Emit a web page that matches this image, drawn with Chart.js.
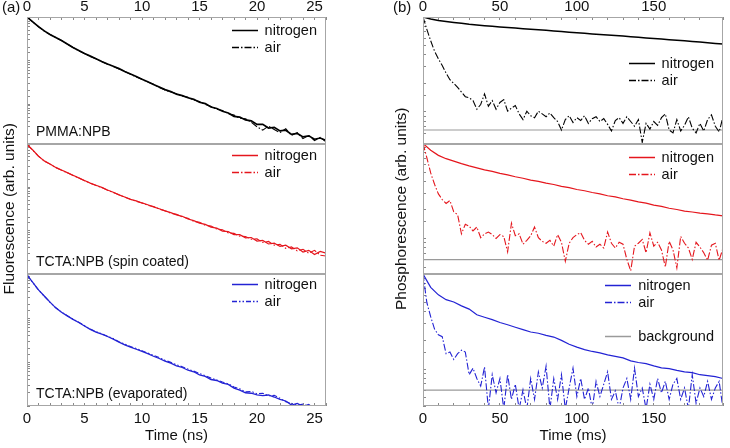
<!DOCTYPE html>
<html><head><meta charset="utf-8">
<script src="https://cdn.jsdelivr.net/npm/chart.js@4.4.0/dist/chart.umd.min.js"></script>
<style>
html,body{margin:0;padding:0;background:#fff;}
#wrap{position:relative;width:730px;height:448px;overflow:hidden;background:#fff;}
canvas{position:absolute;top:0;}
#cl{left:0;} #cr{left:365px;}
</style></head><body>
<div id="wrap"><canvas id="cl" width="365" height="448"></canvas><canvas id="cr" width="365" height="448"></canvas></div>
<script>
// ---------- data: (a) fluorescence, time in ns ----------
const timeNs = [0,0.5,1,1.5,2,2.5,3,3.5,4,4.5,5,5.5,6,6.5,7,7.5,8,8.5,9,9.5,10,10.5,11,11.5,12,12.5,13,13.5,14,14.5,15,15.5,16,16.5,17,17.5,18,18.5,19,19.5,20,20.5,21,21.5,22,22.5,23,23.5,24,24.5,25,25.5,26];
const pmmaNitrogen = [1000,776,603,479,398,339,288,240,200,170,145,126,110,95,83,74,65,56,49,43,37,32.4,28.2,24.5,21.4,19.3,16.8,15.6,13.9,12.8,11.0,10.2,8.5,7.9,6.8,6.2,5.2,5.0,4.3,4.1,3.4,3.4,2.8,2.9,2.4,2.5,2.0,2.1,1.75,1.85,1.55,1.65,1.45];
const pmmaAir = [1000,770,598,476,394,336,287,238,199,168,144,125,109,94,82,73,64,56,48,42,37,32,28.5,24.0,21.0,19.0,17.2,15.2,14.3,12.4,11.4,9.8,8.8,7.6,7.1,6.0,5.6,4.7,4.6,3.8,3.0,2.5,3.1,2.6,2.2,2.7,1.9,2.2,1.6,1.9,1.45,1.7,1.35];
const spinNitrogen = [955,708,513,398,339,282,245,214,186,162,141,123,110,98,85,76,66,59,52,48,43,39,35,31.6,28.2,25.7,22.9,21.2,18.4,16.9,14.8,13.8,12.0,11.3,9.7,9.4,8.0,8.0,6.8,6.9,5.7,5.9,4.9,5.1,4.3,4.6,3.8,4.0,3.2,3.5,2.8,3.3,3.0];
const spinAir = [955,700,508,395,336,280,243,213,184,161,140,122,108,97,84,75,66,58,52,47,43,38,35.5,31,28.5,25,23.5,20.5,19,16.2,15.5,13.2,12.6,10.8,10.4,8.8,8.6,7.4,7.3,6.3,6.4,5.3,5.6,4.6,4.8,3.9,4.2,3.4,3.7,3.0,3.5,2.7,2.6];
const evapNitrogen = [955,646,437,316,229,170,135,112,93,79,66,55,48,43,38,33,28.2,24.5,21.9,19.5,17.4,15.5,13.5,12.0,10.5,9.4,8.2,7.5,6.5,6.0,5.1,4.7,4.0,3.8,3.3,3.1,2.55,2.3,2.0,1.95,1.8,1.72,1.78,1.6,1.42,1.3,1.05,1.15,0.98,1.08,0.85,0.6,0.45];
const evapAir = [955,640,432,314,228,171,136,113,94,80,67,56,49,43.5,38.5,34,29,25.5,22.5,20.2,18.0,16.0,14.2,12.6,11.0,9.8,8.7,7.8,6.9,6.2,5.5,4.9,4.3,3.9,3.5,3.2,2.7,2.45,2.1,2.15,1.9,1.95,1.7,1.75,1.5,1.25,1.15,1.05,1.1,0.95,0.8,0.55,0.4];
const ticksNs = [0,5,10,15,20,25];

// ---------- data: (b) phosphorescence, time in ms ----------
const timeMsN = [0,5,10,15,20,25,30,35,40,45,50,55,60,65,70,75,80,85,90,95,100,105,110,115,120,125,130,135,140,145,150,155,160,165,170,175,180,185,190,195];
const timeMs = [0,2.5,5,7.5,10,12.5,15,17.5,20,22.5,25,27.5,30,32.5,35,37.5,40,42.5,45,47.5,50,52.5,55,57.5,60,62.5,65,67.5,70,72.5,75,77.5,80,82.5,85,87.5,90,92.5,95,97.5,100,102.5,105,107.5,110,112.5,115,117.5,120,122.5,125,127.5,130,132.5,135,137.5,140,142.5,145,147.5,150,152.5,155,157.5,160,162.5,165,167.5,170,172.5,175,177.5,180,182.5,185,187.5,190,192.5,195];
const pmmaPhosNitrogen = [1,.951,.920,.897,.877,.857,.839,.825,.811,.799,.787,.775,.764,.753,.743,.733,.724,.713,.703,.692,.682,.673,.664,.655,.646,.638,.630,.620,.611,.602,.593,.585,.577,.569,.562,.553,.545,.536,.527,.519];
const pmmaPhosAir = [1,.741,.562,.437,.363,.309,.257,.219,.200,.182,.162,.145,.141,.132,.107,.120,.155,.115,.132,.107,.126,.135,.102,.110,.117,.0955,.0832,.102,.0912,.0871,.102,.0955,.0891,.0977,.0871,.0794,.0646,.0832,.0912,.0776,.0871,.0813,.0912,.0759,.0851,.0891,.0794,.0851,.0741,.0631,.0813,.0871,.0759,.0891,.0794,.0708,.0832,.0479,.0759,.0661,.0794,.0724,.0871,.0955,.0646,.0603,.0832,.0631,.0724,.0891,.0676,.0603,.0759,.0631,.0832,.0933,.0708,.0617,.0891];
const spinPhosNitrogen = [1,.851,.750,.692,.652,.614,.581,.553,.527,.508,.485,.468,.447,.431,.412,.399,.382,.370,.354,.343,.328,.318,.305,.295,.282,.274,.262,.254,.243,.236,.225,.218,.208,.202,.194,.190,.185,.182,.177,.173];
const spinPhosAir = [1,.708,.490,.372,.295,.257,.234,.251,.191,.178,.112,.141,.135,.120,.132,.102,.112,.117,.110,.100,.110,.105,.0724,.145,.107,.112,.0871,.0955,.107,.132,.102,.0933,.0891,.0955,.0832,.110,.0912,.0575,.0891,.102,.110,.115,.0955,.0871,.0933,.0813,.0871,.0794,.117,.0891,.0794,.0912,.0871,.0603,.0457,.0832,.0891,.0977,.0708,.115,.0832,.0912,.0759,.0501,.0933,.0759,.0490,.105,.0891,.0794,.0603,.0912,.0813,.0708,.0589,.0851,.0891,.0589,.0794];
const evapPhosNitrogen = [1,.724,.603,.537,.507,.462,.427,.372,.351,.331,.309,.292,.275,.260,.245,.238,.226,.217,.200,.182,.170,.160,.153,.148,.141,.136,.131,.122,.117,.114,.108,.103,.101,.0966,.0933,.0915,.0871,.0851,.0832,.0794];
const evapPhosAir = [1,.501,.355,.263,.229,.219,.145,.151,.126,.145,.158,.151,.0871,.102,.0794,.0661,.105,.038,.0871,.0562,.0794,.038,.0871,.0479,.0692,.038,.0603,.038,.0794,.0479,.0933,.0631,.107,.038,.0794,.0479,.0871,.038,.0631,.102,.0513,.0794,.0479,.0631,.038,.0741,.0513,.0692,.0933,.0479,.0589,.038,.0631,.0794,.0479,.102,.0513,.0631,.038,.0692,.0479,.0794,.0562,.0741,.0479,.0692,.0794,.0479,.0631,.038,.0871,.0437,.0631,.0513,.0741,.0479,.0631,.0741,.038];
const bgTime = [0,195];
const bgPmma = [0.0646,0.0646];
const bgSpin = [0.060,0.060];
const bgEvap = [0.060,0.060];
const ticksMs = [0,50,100,150];

// ---------- styling / layout ----------
const FONT = '"Liberation Sans", Arial, Helvetica, sans-serif';
const BLACK = '#000000', RED = '#e5161d', BLUE = '#2323d4', GREY = '#9a9a9a';
const DASH_DOT = [7,2,1.5,2], DASH_DOT_DOT = [5,2,1.5,2,1.5,2];
const xy = (xs, ys) => xs.map((x, i) => ({x: x, y: ys[i]}));

function ds(label, xs, ys, axis, color, width, dash) {
  return {label: label, data: xy(xs, ys), yAxisID: axis, borderColor: color, borderWidth: width,
    borderDash: dash || [], pointRadius: 0, tension: 0, fill: false};
}

function yAxis(min, max, weight, width, title) {
  return {
    type: 'logarithmic', position: 'left', stack: 'col', stackWeight: weight, min: min, max: max,
    ticks: {display: false},
    grid: {drawOnChartArea: false, drawTicks: true, tickLength: -3, tickColor: '#8a8a8a', tickWidth: 1},
    border: {display: false},
    title: title ? {display: true, text: title, color: '#111', font: {family: FONT, size: 15.5}, padding: {top: 0, bottom: 0}} : {display: false},
    afterFit: s => { s.width = width; }
  };
}

function xAxis(pos, max, step, labels, title) {
  const isTop = pos === 'top';
  return {
    type: 'linear', axis: 'x', position: pos, min: 0, max: max,
    ticks: {stepSize: step, autoSkip: false, maxRotation: 0, padding: isTop ? 4.5 : 7, color: '#111',
      font: {family: FONT, size: 15}, callback: v => labels.includes(v) ? String(v) : ''},
    grid: {drawOnChartArea: false, drawTicks: true, tickLength: -3, tickColor: '#8a8a8a'},
    border: {display: false},
    title: title ? {display: true, text: title, color: '#111', font: {family: FONT, size: 15}, padding: {top: 0, bottom: 3}} : {display: false},
    afterFit: s => { s.height = isTop ? 17 : 42; }
  };
}

const framePlugin = {
  id: 'frame',
  afterDraw(chart, args, opts) {
    const ctx = chart.ctx, xs = chart.scales.x;
    ctx.save();
    opts.panels.forEach(p => {
      const ys = chart.scales[p.axis];
      const l = Math.round(xs.left) + 0.5, r = Math.round(xs.right) - 0.5;
      const t = Math.round(ys.top) + 0.5, b = Math.round(ys.bottom) - 0.5;
      ctx.setLineDash([]);
      ctx.strokeStyle = '#a6a6a6'; ctx.lineWidth = 1;
      ctx.strokeRect(l, t, r - l, b - t);
      // legend
      ctx.font = '14.5px ' + FONT;
      const labels = p.legend.map(e => chart.data.datasets[e.ds].label);
      const maxW = Math.max.apply(null, labels.map(s => ctx.measureText(s).width));
      const textX = xs.right - 9 - maxW;
      p.legend.forEach(e => {
        const d = chart.data.datasets[e.ds];
        const yy = Math.round(ys.top + e.dy) + 0.5;
        ctx.beginPath();
        ctx.setLineDash(d.borderDash || []);
        ctx.strokeStyle = d.borderColor; ctx.lineWidth = d.borderDash && d.borderDash.length ? 1.3 : 1.5;
        ctx.moveTo(Math.round(textX - 33), yy); ctx.lineTo(Math.round(textX - 7), yy); ctx.stroke();
        ctx.setLineDash([]);
        ctx.fillStyle = '#111'; ctx.textBaseline = 'middle'; ctx.textAlign = 'left';
        ctx.fillText(d.label, textX, yy);
      });
      if (p.label) {
        ctx.font = '14px ' + FONT;
        ctx.fillStyle = '#111'; ctx.textBaseline = 'middle'; ctx.textAlign = 'left';
        ctx.fillText(p.label, xs.left + 9, ys.bottom - 11.5);
      }
    });
    ctx.font = '15px ' + FONT;
    ctx.fillStyle = '#111'; ctx.textBaseline = 'middle'; ctx.textAlign = 'left';
    ctx.fillText(opts.corner, opts.cornerX, 8);
    ctx.restore();
  }
};

const common = {
  responsive: false, animation: false, devicePixelRatio: 1,
  events: [],
  elements: {point: {radius: 0}, line: {tension: 0}},
};

// ---------- (a) ----------
new Chart(document.getElementById('cl'), {
  type: 'line',
  data: {datasets: [
    ds('nitrogen', timeNs, pmmaNitrogen, 'y1', BLACK, 1.7),
    ds('air', timeNs, pmmaAir, 'y1', BLACK, 1.1, DASH_DOT),
    ds('nitrogen', timeNs, spinNitrogen, 'y2', RED, 1.2),
    ds('air', timeNs, spinAir, 'y2', RED, 1.1, DASH_DOT),
    ds('nitrogen', timeNs, evapNitrogen, 'y3', BLUE, 1.3),
    ds('air', timeNs, evapAir, 'y3', BLUE, 1.1, DASH_DOT_DOT)
  ]},
  options: Object.assign({}, common, {
    layout: {padding: {left: 0, right: 39, top: 0, bottom: 0}},
    plugins: {legend: {display: false}, tooltip: {enabled: false},
      frame: {corner: '(a)', cornerX: 2, panels: [
        {axis: 'y1', label: 'PMMA:NPB', legend: [{ds: 0, dy: 13}, {ds: 1, dy: 30}]},
        {axis: 'y2', label: 'TCTA:NPB (spin coated)', legend: [{ds: 2, dy: 11.5}, {ds: 3, dy: 28}]},
        {axis: 'y3', label: 'TCTA:NPB (evaporated)', legend: [{ds: 4, dy: 10}, {ds: 5, dy: 27}]}
      ]}},
    scales: {
      x: xAxis('bottom', 26, 1, ticksNs, 'Time (ns)'),
      x2: xAxis('top', 26, 1, ticksNs, null),
      y1: Object.assign(yAxis(1.236, 1000, 126.5, 27, null), {weight: 3}),
      y2: Object.assign(yAxis(1.0, 1000, 130.5, 27, 'Fluorescence (arb. units)'), {weight: 2}),
      y3: Object.assign(yAxis(1.0, 1000, 132, 27, null), {weight: 1})
    }
  }),
  plugins: [framePlugin]
});

// ---------- (b) ----------
new Chart(document.getElementById('cr'), {
  type: 'line',
  data: {datasets: [
    ds('nitrogen', timeMsN, pmmaPhosNitrogen, 'y1', BLACK, 1.5),
    ds('air', timeMs, pmmaPhosAir, 'y1', BLACK, 1.1, DASH_DOT),
    ds('background', bgTime, bgPmma, 'y1', GREY, 1.2),
    ds('nitrogen', timeMsN, spinPhosNitrogen, 'y2', RED, 1.2),
    ds('air', timeMs, spinPhosAir, 'y2', RED, 1.1, DASH_DOT),
    ds('background', bgTime, bgSpin, 'y2', GREY, 1.2),
    ds('nitrogen', timeMsN, evapPhosNitrogen, 'y3', BLUE, 1.2),
    ds('air', timeMs, evapPhosAir, 'y3', BLUE, 1.1, DASH_DOT),
    ds('background', bgTime, bgEvap, 'y3', GREY, 1.2)
  ]},
  options: Object.assign({}, common, {
    layout: {padding: {left: 27, right: 1, top: 0, bottom: 0}},
    plugins: {legend: {display: false}, tooltip: {enabled: false},
      frame: {corner: '(b)', cornerX: 28, panels: [
        {axis: 'y1', label: null, legend: [{ds: 0, dy: 46}, {ds: 1, dy: 63}]},
        {axis: 'y2', label: null, legend: [{ds: 3, dy: 13}, {ds: 4, dy: 30}]},
        {axis: 'y3', label: null, legend: [{ds: 6, dy: 11}, {ds: 7, dy: 28}, {ds: 8, dy: 62}]}
      ]}},
    scales: {
      x: xAxis('bottom', 195, 10, ticksMs, 'Time (ms)'),
      x2: xAxis('top', 195, 10, ticksMs, null),
      y1: Object.assign(yAxis(0.0466, 1, 126.5, 31, null), {weight: 3}),
      y2: Object.assign(yAxis(0.0423, 1, 130.5, 31, 'Phosphorescence (arb. units)'), {weight: 2}),
      y3: Object.assign(yAxis(0.0408, 1, 132, 31, null), {weight: 1})
    }
  }),
  plugins: [framePlugin]
});
</script>
</body></html>
